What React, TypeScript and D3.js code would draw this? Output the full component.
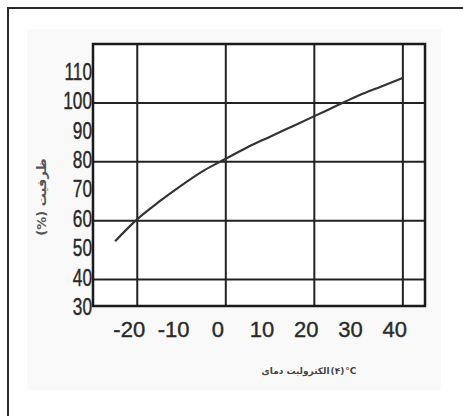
import React, { useLayoutEffect, useRef, useState } from "react";
import * as d3 from "d3";

const temps = [-25, -20, -15, -10, -5, 0, 5, 10, 15, 20, 25, 30, 35, 40];
const capacity = [53, 60.5, 66.5, 72, 77, 81, 85, 88.5, 92, 95.5, 99, 102.5, 105.5, 108.5];
const xTicks = [-20, -10, 0, 10, 20, 30, 40];
const yTicks = [30, 40, 50, 60, 70, 80, 90, 100, 110];
const xGrid = [-20, 0, 20, 40];
const yGrid = [40, 60, 80, 100];
const yTitle = "ظرفیت (%)";
const xTitleParts = ["دمای", "الکترولیت", "(۴)", "°C"];

const W = 463;
const H = 416;
const left = 93, right = 425, top = 44, bottom = 306;

export default function App() {
  const x = d3.scaleLinear().domain([-30, 45]).range([left, right]);
  const y = d3.scaleLinear().domain([31, 120]).range([bottom, top]);
  const line = d3
    .line<number>()
    .x((_, i) => x(temps[i]))
    .y((d) => y(d))
    .curve(d3.curveMonotoneX);
  const tickFont = "'Liberation Sans', Arial, sans-serif";

  const refs = useRef<(SVGTextElement | null)[]>([]);
  const [offsets, setOffsets] = useState<number[]>(xTitleParts.map((_, i) => 277 + i * 16));
  useLayoutEffect(() => {
    const gap = [3, 1, 1];
    const widths = refs.current.map((el) => (el ? el.getComputedTextLength() : 10));
    const total = widths.reduce((a, b) => a + b, 0) + gap.reduce((a, b) => a + b, 0);
    let cur = 309 - total / 2;
    const o: number[] = [];
    widths.forEach((w, i) => {
      o.push(cur);
      cur += w + (gap[i] || 0);
    });
    setOffsets(o);
  }, []);

  return (
    <svg
      width={W}
      height={H}
      style={{ position: "absolute", left: 0, top: 0, background: "#fff" }}
    >
      <rect x={8} y={8} width={470} height={430} fill="#fff" stroke="#2a2a2a" strokeWidth={2} />
      <rect x={27} y={29} width={414} height={361} fill="#f9f9f9" />
      <rect x={left} y={top} width={right - left} height={bottom - top} fill="#fff" />
      {yGrid.map((v) => (
        <line key={"yg" + v} x1={left} x2={right} y1={y(v)} y2={y(v)} stroke="#222" strokeWidth={2} />
      ))}
      {xGrid.map((v) => (
        <line key={"xg" + v} x1={x(v)} x2={x(v)} y1={top} y2={bottom} stroke="#222" strokeWidth={2} />
      ))}
      <path d={line(capacity) || ""} fill="none" stroke="#333" strokeWidth={2.2} />
      <rect x={left} y={top} width={right - left} height={bottom - top} fill="none" stroke="#1a1a1a" strokeWidth={2.5} />
      {yTicks.map((v) => (
        <text
          key={"yt" + v}
          transform={`translate(${left - 1},${y(v) - 2}) scale(0.75,1)`}
          dy="0.36em"
          textAnchor="end"
          fontFamily={tickFont}
          fontSize={23}
          fill="#2a2a2a"
          stroke="#2a2a2a"
          strokeWidth={0.4}
        >
          {v}
        </text>
      ))}
      {xTicks.map((v) => (
        <text
          key={"xt" + v}
          x={x(v) - 8}
          y={337}
          textAnchor="middle"
          fontFamily={tickFont}
          fontSize={22}
          fill="#2a2a2a"
          stroke="#2a2a2a"
          strokeWidth={0.4}
        >
          {v}
        </text>
      ))}
      <text
        transform={`translate(46,197) rotate(-90)`}
        textAnchor="middle"
        direction="rtl"
        fontFamily="'DejaVu Sans', sans-serif"
        fontSize={13}
        fontWeight="bold"
        fill="#555"
      >
        {yTitle}
      </text>
      {xTitleParts.map((p, i) => (
        <text
          key={"xtt" + i}
          ref={(el) => {
            refs.current[i] = el;
          }}
          x={offsets[i]}
          y={374}
          textAnchor="start"
          fontFamily="'DejaVu Sans', sans-serif"
          fontSize={9}
          fontWeight="bold"
          fill="#444"
        >
          {p}
        </text>
      ))}
    </svg>
  );
}
